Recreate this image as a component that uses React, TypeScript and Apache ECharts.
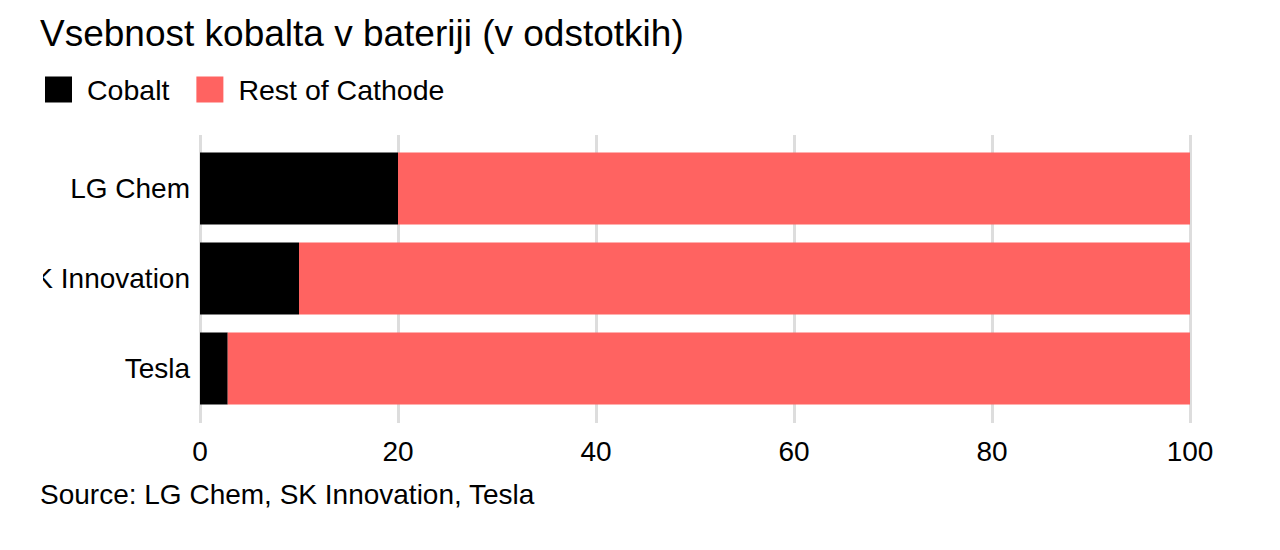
import React, { useEffect, useRef } from "react";
import * as echarts from "echarts";

const categories = ["LG Chem", "SK Innovation", "Tesla"];
const cobalt = [20, 10, 2.8];
const restOfCathode = [80, 90, 97.2];
const xTicks = [0, 20, 40, 60, 80, 100];

const FONT = "'Liberation Sans', Arial, sans-serif";

export default function App() {
  const ref = useRef<HTMLDivElement>(null);
  useEffect(() => {
    if (!ref.current) return;
    const chart = echarts.init(ref.current, undefined, { renderer: "svg" });
    chart.setOption({
      animation: false,
      backgroundColor: "#ffffff",
      textStyle: { fontFamily: FONT },
      title: {
        text: "Vsebnost kobalta v bateriji (v odstotkih)",
        left: 35,
        top: 10,
        textStyle: { fontFamily: FONT, fontSize: 37, fontWeight: "normal", color: "#000" },
      },
      legend: {
        left: 40,
        top: 70,
        itemWidth: 27,
        itemHeight: 26,
        itemGap: 27,
        icon: "rect",
        textStyle: { fontFamily: FONT, fontSize: 28.5, color: "#000", padding: [0, 0, 0, 10] },
        data: ["Cobalt", "Rest of Cathode"],
      },
      grid: [
        { left: 200, width: 990, top: 143.5, height: 270 },
        { left: 200, width: 990, top: 135, height: 288 },
      ],
      xAxis: [
        { gridIndex: 0, type: "value", min: 0, max: 100, interval: 20, show: false },
        {
          gridIndex: 1,
          type: "value",
          min: xTicks[0],
          max: xTicks[xTicks.length - 1],
          interval: 20,
          axisLine: { show: false },
          axisTick: { show: false },
          axisLabel: { fontFamily: FONT, fontSize: 28, color: "#000", margin: 14 },
          splitLine: { show: true, lineStyle: { color: "#dddddd", width: 3 } },
        },
      ],
      yAxis: [
        {
          gridIndex: 0,
          type: "category",
          data: categories,
          inverse: true,
          axisLine: { show: false },
          axisTick: { show: false },
          axisLabel: { fontFamily: FONT, fontSize: 28, color: "#000", margin: 10 },
        },
        {
          gridIndex: 1,
          type: "category",
          data: categories,
          show: false,
        },
      ],
      series: [
        {
          name: "Cobalt",
          type: "bar",
          stack: "total",
          xAxisIndex: 0,
          yAxisIndex: 0,
          barWidth: 72,
          itemStyle: { color: "#000000" },
          data: cobalt,
        },
        {
          name: "Rest of Cathode",
          type: "bar",
          stack: "total",
          xAxisIndex: 0,
          yAxisIndex: 0,
          barWidth: 72,
          itemStyle: { color: "#ff6361" },
          data: restOfCathode,
        },
      ],
      graphic: [
        {
          type: "text",
          left: 40,
          top: 480,
          style: {
            text: "Source: LG Chem, SK Innovation, Tesla",
            fontFamily: FONT,
            fontSize: 28,
            fill: "#000",
          },
        },
        {
          type: "rect",
          left: 0,
          top: 255,
          z: 100,
          shape: { width: 43, height: 45 },
          style: { fill: "#ffffff" },
        },
      ],
    });
    return () => chart.dispose();
  }, []);
  return (
    <div
      ref={ref}
      style={{ position: "absolute", left: 0, top: 0, width: 1280, height: 550 }}
    />
  );
}
